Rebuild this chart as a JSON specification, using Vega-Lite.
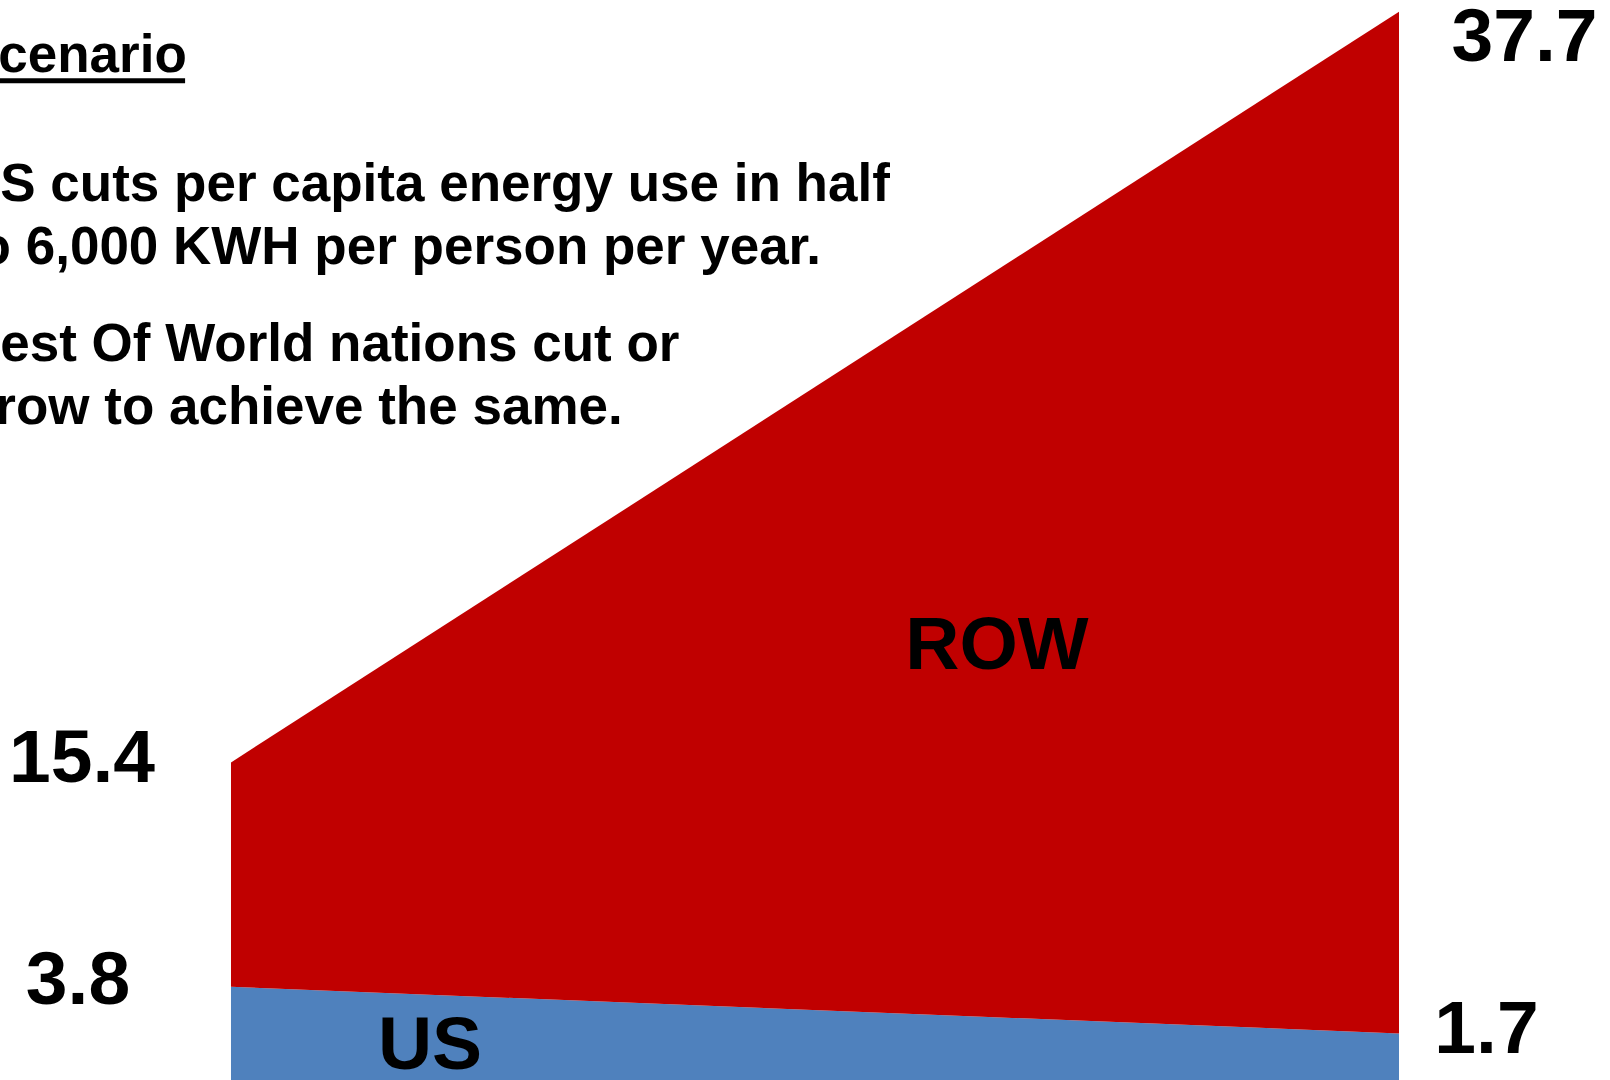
{
  "$schema": "https://vega.github.io/schema/vega-lite/v6.json",
  "width": 1610,
  "height": 1080,
  "padding": 0,
  "autosize": {"type": "none"},
  "background": "white",
  "config": {"view": {"stroke": null}},
  "datasets": {
    "energy": [
      {"stage": 0, "region": "US", "value": 3.44, "label": "3.8"},
      {"stage": 0, "region": "ROW", "value": 8.28, "label": "15.4"},
      {"stage": 1, "region": "US", "value": 1.72, "label": "1.7"},
      {"stage": 1, "region": "ROW", "value": 37.7, "label": "37.7"}
    ]
  },
  "data": {"name": "energy"},
  "layer": [
    {
      "mark": {"type": "area", "interpolate": "linear", "strokeWidth": 0},
      "encoding": {
        "x": {"field": "stage", "type": "quantitative", "scale": {"domain": [-0.19777, 1.18065], "nice": false, "zero": false}, "axis": null},
        "y": {"field": "value", "type": "quantitative", "stack": "zero", "scale": {"domain": [0, 39.852], "nice": false}, "axis": null},
        "color": {"field": "region", "type": "nominal", "scale": {"domain": ["US", "ROW"], "range": ["#4F81BD", "#C00000"]}, "legend": null},
        "order": {"field": "region", "sort": "descending"}
      }
    },
    {
      "transform": [{"filter": "datum.stage == 0 && datum.region == 'ROW'"}],
      "mark": {"type": "text", "font": "Liberation Sans", "fontWeight": "bold", "fontSize": 75, "align": "center", "baseline": "alphabetic", "color": "black"},
      "encoding": {"x": {"datum": -0.1276}, "y": {"datum": 11.0}, "text": {"field": "label"}}
    },
    {
      "transform": [{"filter": "datum.stage == 0 && datum.region == 'US'"}],
      "mark": {"type": "text", "font": "Liberation Sans", "fontWeight": "bold", "fontSize": 75, "align": "center", "baseline": "alphabetic", "color": "black"},
      "encoding": {"x": {"datum": -0.131}, "y": {"datum": 2.8}, "text": {"field": "label"}}
    },
    {
      "transform": [{"filter": "datum.stage == 1 && datum.region == 'ROW'"}],
      "mark": {"type": "text", "font": "Liberation Sans", "fontWeight": "bold", "fontSize": 75, "align": "center", "baseline": "alphabetic", "color": "black"},
      "encoding": {"x": {"datum": 1.1074}, "y": {"datum": 37.6}, "text": {"field": "label"}}
    },
    {
      "transform": [{"filter": "datum.stage == 1 && datum.region == 'US'"}],
      "mark": {"type": "text", "font": "Liberation Sans", "fontWeight": "bold", "fontSize": 75, "align": "center", "baseline": "alphabetic", "color": "black"},
      "encoding": {"x": {"datum": 1.0749}, "y": {"datum": 1.0}, "text": {"field": "label"}}
    },
    {
      "transform": [{"filter": "datum.stage == 0 && datum.region == 'ROW'"}],
      "mark": {"type": "text", "font": "Liberation Sans", "fontWeight": "bold", "fontSize": 75, "align": "center", "baseline": "alphabetic", "color": "black"},
      "encoding": {"x": {"datum": 0.6558}, "y": {"datum": 15.17}, "text": {"field": "region"}}
    },
    {
      "transform": [{"filter": "datum.stage == 0 && datum.region == 'US'"}],
      "mark": {"type": "text", "font": "Liberation Sans", "fontWeight": "bold", "fontSize": 75, "align": "center", "baseline": "alphabetic", "color": "black"},
      "encoding": {"x": {"datum": 0.1704}, "y": {"datum": 0.41}, "text": {"field": "region"}}
    },
    {
      "data": {"values": [{"text": "Scenario"}]},
      "mark": {"type": "text", "font": "Liberation Sans", "fontWeight": "bold", "fontSize": 53, "align": "left", "baseline": "alphabetic", "color": "black"},
      "encoding": {"x": {"datum": -0.2295}, "y": {"datum": 37.2}, "text": {"field": "text"}}
    },
    {
      "data": {"values": [{}]},
      "mark": {"type": "rule", "strokeWidth": 5, "color": "black"},
      "encoding": {"x": {"datum": -0.2303}, "x2": {"datum": -0.0393}, "y": {"datum": 36.87}}
    },
    {
      "data": {"values": [{"text": "US cuts per capita energy use in half"}]},
      "mark": {"type": "text", "font": "Liberation Sans", "fontWeight": "bold", "fontSize": 53, "align": "left", "baseline": "alphabetic", "color": "black"},
      "encoding": {"x": {"datum": -0.2303}, "y": {"datum": 32.44}, "text": {"field": "text"}}
    },
    {
      "data": {"values": [{"text": "to 6,000 KWH per person per year."}]},
      "mark": {"type": "text", "font": "Liberation Sans", "fontWeight": "bold", "fontSize": 53, "align": "left", "baseline": "alphabetic", "color": "black"},
      "encoding": {"x": {"datum": -0.2312}, "y": {"datum": 30.11}, "text": {"field": "text"}}
    },
    {
      "data": {"values": [{"text": "Rest Of World nations cut or"}]},
      "mark": {"type": "text", "font": "Liberation Sans", "fontWeight": "bold", "fontSize": 53, "align": "left", "baseline": "alphabetic", "color": "black"},
      "encoding": {"x": {"datum": -0.2303}, "y": {"datum": 26.53}, "text": {"field": "text"}}
    },
    {
      "data": {"values": [{"text": "grow to achieve the same."}]},
      "mark": {"type": "text", "font": "Liberation Sans", "fontWeight": "bold", "fontSize": 53, "align": "left", "baseline": "alphabetic", "color": "black"},
      "encoding": {"x": {"datum": -0.2295}, "y": {"datum": 24.21}, "text": {"field": "text"}}
    }
  ]
}
